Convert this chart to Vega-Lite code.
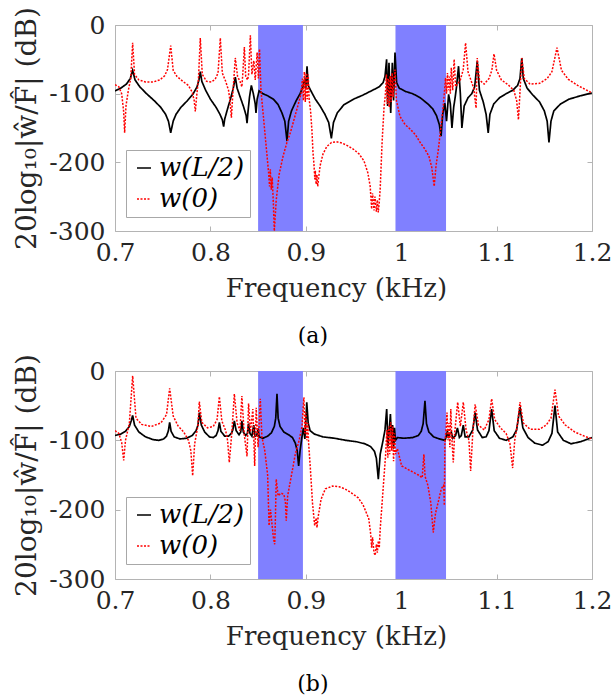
{
  "$schema": "https://vega.github.io/schema/vega-lite/v6.json",
  "background": "white",
  "padding": {"left": 13, "top": 6, "right": 0, "bottom": 0},
  "datasets": {
    "bands": [{"start": 0.85, "end": 0.897}, {"start": 0.994, "end": 1.047}],
    "a": [
      {"series":"w(L/2)","f":0.700,"dB":-96},{"series":"w(L/2)","f":0.706,"dB":-92},{"series":"w(L/2)","f":0.712,"dB":-86},{"series":"w(L/2)","f":0.716,"dB":-78},{"series":"w(L/2)","f":0.7185,"dB":-66},{"series":"w(L/2)","f":0.721,"dB":-80},{"series":"w(L/2)","f":0.726,"dB":-90},{"series":"w(L/2)","f":0.733,"dB":-100},{"series":"w(L/2)","f":0.741,"dB":-110},{"series":"w(L/2)","f":0.748,"dB":-120},{"series":"w(L/2)","f":0.753,"dB":-130},{"series":"w(L/2)","f":0.756,"dB":-140},{"series":"w(L/2)","f":0.7584,"dB":-157},{"series":"w(L/2)","f":0.761,"dB":-140},{"series":"w(L/2)","f":0.764,"dB":-130},{"series":"w(L/2)","f":0.769,"dB":-120},{"series":"w(L/2)","f":0.776,"dB":-110},{"series":"w(L/2)","f":0.782,"dB":-100},{"series":"w(L/2)","f":0.786,"dB":-90},{"series":"w(L/2)","f":0.788,"dB":-80},{"series":"w(L/2)","f":0.7894,"dB":-68},{"series":"w(L/2)","f":0.791,"dB":-82},{"series":"w(L/2)","f":0.795,"dB":-95},{"series":"w(L/2)","f":0.800,"dB":-108},{"series":"w(L/2)","f":0.806,"dB":-120},{"series":"w(L/2)","f":0.810,"dB":-130},{"series":"w(L/2)","f":0.8125,"dB":-138},{"series":"w(L/2)","f":0.8139,"dB":-148},{"series":"w(L/2)","f":0.815,"dB":-137},{"series":"w(L/2)","f":0.818,"dB":-122},{"series":"w(L/2)","f":0.821,"dB":-108},{"series":"w(L/2)","f":0.824,"dB":-92},{"series":"w(L/2)","f":0.8261,"dB":-76},{"series":"w(L/2)","f":0.828,"dB":-92},{"series":"w(L/2)","f":0.832,"dB":-108},{"series":"w(L/2)","f":0.835,"dB":-120},{"series":"w(L/2)","f":0.8375,"dB":-132},{"series":"w(L/2)","f":0.8384,"dB":-143},{"series":"w(L/2)","f":0.8395,"dB":-125},{"series":"w(L/2)","f":0.841,"dB":-105},{"series":"w(L/2)","f":0.8429,"dB":-88},{"series":"w(L/2)","f":0.845,"dB":-100},{"series":"w(L/2)","f":0.847,"dB":-115},{"series":"w(L/2)","f":0.8478,"dB":-128},{"series":"w(L/2)","f":0.849,"dB":-108},{"series":"w(L/2)","f":0.851,"dB":-96},{"series":"w(L/2)","f":0.855,"dB":-100},{"series":"w(L/2)","f":0.860,"dB":-103},{"series":"w(L/2)","f":0.866,"dB":-108},{"series":"w(L/2)","f":0.871,"dB":-116},{"series":"w(L/2)","f":0.875,"dB":-128},{"series":"w(L/2)","f":0.878,"dB":-140},{"series":"w(L/2)","f":0.8803,"dB":-169},{"series":"w(L/2)","f":0.882,"dB":-140},{"series":"w(L/2)","f":0.885,"dB":-125},{"series":"w(L/2)","f":0.890,"dB":-110},{"series":"w(L/2)","f":0.894,"dB":-100},{"series":"w(L/2)","f":0.897,"dB":-90},{"series":"w(L/2)","f":0.899,"dB":-78},{"series":"w(L/2)","f":0.900,"dB":-92},{"series":"w(L/2)","f":0.9013,"dB":-60},{"series":"w(L/2)","f":0.9025,"dB":-88},{"series":"w(L/2)","f":0.905,"dB":-95},{"series":"w(L/2)","f":0.910,"dB":-108},{"series":"w(L/2)","f":0.915,"dB":-118},{"series":"w(L/2)","f":0.920,"dB":-130},{"series":"w(L/2)","f":0.924,"dB":-142},{"series":"w(L/2)","f":0.9268,"dB":-165},{"series":"w(L/2)","f":0.929,"dB":-142},{"series":"w(L/2)","f":0.933,"dB":-128},{"series":"w(L/2)","f":0.940,"dB":-116},{"series":"w(L/2)","f":0.950,"dB":-108},{"series":"w(L/2)","f":0.960,"dB":-102},{"series":"w(L/2)","f":0.970,"dB":-95},{"series":"w(L/2)","f":0.977,"dB":-90},{"series":"w(L/2)","f":0.981,"dB":-84},{"series":"w(L/2)","f":0.983,"dB":-75},{"series":"w(L/2)","f":0.9847,"dB":-50},{"series":"w(L/2)","f":0.9858,"dB":-118},{"series":"w(L/2)","f":0.9872,"dB":-55},{"series":"w(L/2)","f":0.989,"dB":-128},{"series":"w(L/2)","f":0.9907,"dB":-55},{"series":"w(L/2)","f":0.992,"dB":-110},{"series":"w(L/2)","f":0.9935,"dB":-40},{"series":"w(L/2)","f":0.9952,"dB":-84},{"series":"w(L/2)","f":0.998,"dB":-92},{"series":"w(L/2)","f":1.005,"dB":-97},{"series":"w(L/2)","f":1.012,"dB":-100},{"series":"w(L/2)","f":1.020,"dB":-106},{"series":"w(L/2)","f":1.028,"dB":-115},{"series":"w(L/2)","f":1.033,"dB":-122},{"series":"w(L/2)","f":1.037,"dB":-132},{"series":"w(L/2)","f":1.040,"dB":-145},{"series":"w(L/2)","f":1.0418,"dB":-162},{"series":"w(L/2)","f":1.0435,"dB":-130},{"series":"w(L/2)","f":1.0458,"dB":-114},{"series":"w(L/2)","f":1.0475,"dB":-140},{"series":"w(L/2)","f":1.0497,"dB":-101},{"series":"w(L/2)","f":1.0515,"dB":-115},{"series":"w(L/2)","f":1.0532,"dB":-150},{"series":"w(L/2)","f":1.055,"dB":-120},{"series":"w(L/2)","f":1.0567,"dB":-104},{"series":"w(L/2)","f":1.058,"dB":-90},{"series":"w(L/2)","f":1.0601,"dB":-60},{"series":"w(L/2)","f":1.062,"dB":-100},{"series":"w(L/2)","f":1.0636,"dB":-150},{"series":"w(L/2)","f":1.066,"dB":-118},{"series":"w(L/2)","f":1.070,"dB":-106},{"series":"w(L/2)","f":1.074,"dB":-100},{"series":"w(L/2)","f":1.077,"dB":-90},{"series":"w(L/2)","f":1.0797,"dB":-53},{"series":"w(L/2)","f":1.082,"dB":-95},{"series":"w(L/2)","f":1.086,"dB":-112},{"series":"w(L/2)","f":1.089,"dB":-130},{"series":"w(L/2)","f":1.0912,"dB":-157},{"series":"w(L/2)","f":1.093,"dB":-130},{"series":"w(L/2)","f":1.097,"dB":-115},{"series":"w(L/2)","f":1.103,"dB":-106},{"series":"w(L/2)","f":1.110,"dB":-100},{"series":"w(L/2)","f":1.117,"dB":-95},{"series":"w(L/2)","f":1.122,"dB":-88},{"series":"w(L/2)","f":1.1245,"dB":-78},{"series":"w(L/2)","f":1.1264,"dB":-48},{"series":"w(L/2)","f":1.128,"dB":-78},{"series":"w(L/2)","f":1.132,"dB":-92},{"series":"w(L/2)","f":1.138,"dB":-102},{"series":"w(L/2)","f":1.145,"dB":-112},{"series":"w(L/2)","f":1.150,"dB":-125},{"series":"w(L/2)","f":1.153,"dB":-140},{"series":"w(L/2)","f":1.1549,"dB":-171},{"series":"w(L/2)","f":1.157,"dB":-140},{"series":"w(L/2)","f":1.160,"dB":-125},{"series":"w(L/2)","f":1.167,"dB":-115},{"series":"w(L/2)","f":1.176,"dB":-108},{"series":"w(L/2)","f":1.188,"dB":-103},{"series":"w(L/2)","f":1.200,"dB":-99},
      {"series":"w(0)","f":0.700,"dB":-87},{"series":"w(0)","f":0.704,"dB":-90},{"series":"w(0)","f":0.707,"dB":-100},{"series":"w(0)","f":0.709,"dB":-125},{"series":"w(0)","f":0.7101,"dB":-157},{"series":"w(0)","f":0.7115,"dB":-118},{"series":"w(0)","f":0.714,"dB":-95},{"series":"w(0)","f":0.7165,"dB":-78},{"series":"w(0)","f":0.7185,"dB":-26},{"series":"w(0)","f":0.7205,"dB":-72},{"series":"w(0)","f":0.725,"dB":-80},{"series":"w(0)","f":0.732,"dB":-83},{"series":"w(0)","f":0.740,"dB":-83},{"series":"w(0)","f":0.747,"dB":-80},{"series":"w(0)","f":0.752,"dB":-74},{"series":"w(0)","f":0.755,"dB":-65},{"series":"w(0)","f":0.7584,"dB":-30},{"series":"w(0)","f":0.761,"dB":-66},{"series":"w(0)","f":0.765,"dB":-75},{"series":"w(0)","f":0.771,"dB":-82},{"series":"w(0)","f":0.777,"dB":-88},{"series":"w(0)","f":0.781,"dB":-98},{"series":"w(0)","f":0.783,"dB":-110},{"series":"w(0)","f":0.7842,"dB":-126},{"series":"w(0)","f":0.7855,"dB":-105},{"series":"w(0)","f":0.7875,"dB":-78},{"series":"w(0)","f":0.7894,"dB":-19},{"series":"w(0)","f":0.7915,"dB":-72},{"series":"w(0)","f":0.796,"dB":-82},{"series":"w(0)","f":0.801,"dB":-83},{"series":"w(0)","f":0.805,"dB":-79},{"series":"w(0)","f":0.808,"dB":-70},{"series":"w(0)","f":0.8104,"dB":-19},{"series":"w(0)","f":0.8125,"dB":-70},{"series":"w(0)","f":0.816,"dB":-82},{"series":"w(0)","f":0.819,"dB":-95},{"series":"w(0)","f":0.8205,"dB":-110},{"series":"w(0)","f":0.822,"dB":-135},{"series":"w(0)","f":0.8235,"dB":-100},{"series":"w(0)","f":0.8261,"dB":-48},{"series":"w(0)","f":0.8285,"dB":-75},{"series":"w(0)","f":0.831,"dB":-82},{"series":"w(0)","f":0.833,"dB":-90},{"series":"w(0)","f":0.834,"dB":-70},{"series":"w(0)","f":0.8356,"dB":-32},{"series":"w(0)","f":0.837,"dB":-75},{"series":"w(0)","f":0.839,"dB":-80},{"series":"w(0)","f":0.840,"dB":-72},{"series":"w(0)","f":0.8419,"dB":-15},{"series":"w(0)","f":0.8435,"dB":-72},{"series":"w(0)","f":0.8455,"dB":-52},{"series":"w(0)","f":0.847,"dB":-80},{"series":"w(0)","f":0.849,"dB":-40},{"series":"w(0)","f":0.8503,"dB":-78},{"series":"w(0)","f":0.8515,"dB":-35},{"series":"w(0)","f":0.853,"dB":-95},{"series":"w(0)","f":0.856,"dB":-140},{"series":"w(0)","f":0.859,"dB":-185},{"series":"w(0)","f":0.861,"dB":-215},{"series":"w(0)","f":0.862,"dB":-235},{"series":"w(0)","f":0.8628,"dB":-210},{"series":"w(0)","f":0.8638,"dB":-240},{"series":"w(0)","f":0.8648,"dB":-222},{"series":"w(0)","f":0.866,"dB":-260},{"series":"w(0)","f":0.867,"dB":-300},{"series":"w(0)","f":0.869,"dB":-255},{"series":"w(0)","f":0.872,"dB":-218},{"series":"w(0)","f":0.876,"dB":-192},{"series":"w(0)","f":0.880,"dB":-172},{"series":"w(0)","f":0.884,"dB":-156},{"series":"w(0)","f":0.888,"dB":-136},{"series":"w(0)","f":0.892,"dB":-116},{"series":"w(0)","f":0.895,"dB":-100},{"series":"w(0)","f":0.8965,"dB":-78},{"series":"w(0)","f":0.8975,"dB":-110},{"series":"w(0)","f":0.8985,"dB":-68},{"series":"w(0)","f":0.8995,"dB":-112},{"series":"w(0)","f":0.9005,"dB":-70},{"series":"w(0)","f":0.9015,"dB":-108},{"series":"w(0)","f":0.9025,"dB":-72},{"series":"w(0)","f":0.9035,"dB":-108},{"series":"w(0)","f":0.905,"dB":-125},{"series":"w(0)","f":0.9065,"dB":-155},{"series":"w(0)","f":0.9075,"dB":-185},{"series":"w(0)","f":0.9085,"dB":-202},{"series":"w(0)","f":0.9095,"dB":-225},{"series":"w(0)","f":0.910,"dB":-212},{"series":"w(0)","f":0.9108,"dB":-232},{"series":"w(0)","f":0.9116,"dB":-218},{"series":"w(0)","f":0.9125,"dB":-235},{"series":"w(0)","f":0.9135,"dB":-222},{"series":"w(0)","f":0.915,"dB":-205},{"series":"w(0)","f":0.918,"dB":-188},{"series":"w(0)","f":0.922,"dB":-177},{"series":"w(0)","f":0.927,"dB":-171},{"series":"w(0)","f":0.932,"dB":-170},{"series":"w(0)","f":0.938,"dB":-172},{"series":"w(0)","f":0.944,"dB":-176},{"series":"w(0)","f":0.950,"dB":-181},{"series":"w(0)","f":0.956,"dB":-188},{"series":"w(0)","f":0.961,"dB":-198},{"series":"w(0)","f":0.965,"dB":-215},{"series":"w(0)","f":0.9675,"dB":-235},{"series":"w(0)","f":0.969,"dB":-268},{"series":"w(0)","f":0.970,"dB":-245},{"series":"w(0)","f":0.9715,"dB":-270},{"series":"w(0)","f":0.9725,"dB":-250},{"series":"w(0)","f":0.974,"dB":-272},{"series":"w(0)","f":0.975,"dB":-255},{"series":"w(0)","f":0.976,"dB":-273},{"series":"w(0)","f":0.977,"dB":-258},{"series":"w(0)","f":0.978,"dB":-238},{"series":"w(0)","f":0.980,"dB":-170},{"series":"w(0)","f":0.982,"dB":-120},{"series":"w(0)","f":0.9835,"dB":-100},{"series":"w(0)","f":0.9845,"dB":-72},{"series":"w(0)","f":0.9855,"dB":-115},{"series":"w(0)","f":0.9865,"dB":-78},{"series":"w(0)","f":0.9875,"dB":-120},{"series":"w(0)","f":0.9885,"dB":-74},{"series":"w(0)","f":0.9895,"dB":-112},{"series":"w(0)","f":0.9905,"dB":-70},{"series":"w(0)","f":0.9915,"dB":-105},{"series":"w(0)","f":0.9925,"dB":-80},{"series":"w(0)","f":0.9935,"dB":-65},{"series":"w(0)","f":0.995,"dB":-110},{"series":"w(0)","f":0.9987,"dB":-133},{"series":"w(0)","f":1.004,"dB":-145},{"series":"w(0)","f":1.0098,"dB":-152},{"series":"w(0)","f":1.015,"dB":-160},{"series":"w(0)","f":1.0203,"dB":-172},{"series":"w(0)","f":1.025,"dB":-181},{"series":"w(0)","f":1.029,"dB":-191},{"series":"w(0)","f":1.032,"dB":-207},{"series":"w(0)","f":1.0346,"dB":-235},{"series":"w(0)","f":1.0365,"dB":-205},{"series":"w(0)","f":1.0389,"dB":-182},{"series":"w(0)","f":1.0415,"dB":-150},{"series":"w(0)","f":1.0441,"dB":-118},{"series":"w(0)","f":1.0465,"dB":-77},{"series":"w(0)","f":1.0475,"dB":-100},{"series":"w(0)","f":1.0485,"dB":-70},{"series":"w(0)","f":1.0495,"dB":-95},{"series":"w(0)","f":1.0505,"dB":-75},{"series":"w(0)","f":1.0515,"dB":-100},{"series":"w(0)","f":1.0525,"dB":-62},{"series":"w(0)","f":1.054,"dB":-95},{"series":"w(0)","f":1.0555,"dB":-50},{"series":"w(0)","f":1.057,"dB":-90},{"series":"w(0)","f":1.059,"dB":-86},{"series":"w(0)","f":1.062,"dB":-80},{"series":"w(0)","f":1.065,"dB":-65},{"series":"w(0)","f":1.0675,"dB":-26},{"series":"w(0)","f":1.070,"dB":-68},{"series":"w(0)","f":1.073,"dB":-80},{"series":"w(0)","f":1.076,"dB":-92},{"series":"w(0)","f":1.0785,"dB":-121},{"series":"w(0)","f":1.0797,"dB":-48},{"series":"w(0)","f":1.082,"dB":-80},{"series":"w(0)","f":1.087,"dB":-86},{"series":"w(0)","f":1.092,"dB":-78},{"series":"w(0)","f":1.095,"dB":-66},{"series":"w(0)","f":1.0973,"dB":-42},{"series":"w(0)","f":1.100,"dB":-66},{"series":"w(0)","f":1.105,"dB":-80},{"series":"w(0)","f":1.112,"dB":-87},{"series":"w(0)","f":1.118,"dB":-95},{"series":"w(0)","f":1.121,"dB":-110},{"series":"w(0)","f":1.1229,"dB":-138},{"series":"w(0)","f":1.1245,"dB":-98},{"series":"w(0)","f":1.1264,"dB":-48},{"series":"w(0)","f":1.129,"dB":-78},{"series":"w(0)","f":1.135,"dB":-86},{"series":"w(0)","f":1.145,"dB":-85},{"series":"w(0)","f":1.153,"dB":-78},{"series":"w(0)","f":1.158,"dB":-68},{"series":"w(0)","f":1.1633,"dB":-33},{"series":"w(0)","f":1.168,"dB":-66},{"series":"w(0)","f":1.175,"dB":-79},{"series":"w(0)","f":1.185,"dB":-88},{"series":"w(0)","f":1.200,"dB":-99}
    ],
    "b": [
      {"series":"w(L/2)","f":0.700,"dB":-93},{"series":"w(L/2)","f":0.706,"dB":-91},{"series":"w(L/2)","f":0.711,"dB":-87},{"series":"w(L/2)","f":0.715,"dB":-80},{"series":"w(L/2)","f":0.717,"dB":-72},{"series":"w(L/2)","f":0.7185,"dB":-64},{"series":"w(L/2)","f":0.7205,"dB":-78},{"series":"w(L/2)","f":0.725,"dB":-88},{"series":"w(L/2)","f":0.732,"dB":-95},{"series":"w(L/2)","f":0.740,"dB":-99},{"series":"w(L/2)","f":0.746,"dB":-100},{"series":"w(L/2)","f":0.751,"dB":-98},{"series":"w(L/2)","f":0.754,"dB":-94},{"series":"w(L/2)","f":0.756,"dB":-86},{"series":"w(L/2)","f":0.7573,"dB":-74},{"series":"w(L/2)","f":0.7588,"dB":-87},{"series":"w(L/2)","f":0.762,"dB":-95},{"series":"w(L/2)","f":0.768,"dB":-98},{"series":"w(L/2)","f":0.775,"dB":-97},{"series":"w(L/2)","f":0.781,"dB":-93},{"series":"w(L/2)","f":0.785,"dB":-86},{"series":"w(L/2)","f":0.787,"dB":-78},{"series":"w(L/2)","f":0.7884,"dB":-60},{"series":"w(L/2)","f":0.7905,"dB":-78},{"series":"w(L/2)","f":0.794,"dB":-88},{"series":"w(L/2)","f":0.799,"dB":-95},{"series":"w(L/2)","f":0.803,"dB":-96},{"series":"w(L/2)","f":0.806,"dB":-93},{"series":"w(L/2)","f":0.808,"dB":-86},{"series":"w(L/2)","f":0.8094,"dB":-74},{"series":"w(L/2)","f":0.811,"dB":-87},{"series":"w(L/2)","f":0.815,"dB":-94},{"series":"w(L/2)","f":0.819,"dB":-94},{"series":"w(L/2)","f":0.822,"dB":-90},{"series":"w(L/2)","f":0.8235,"dB":-85},{"series":"w(L/2)","f":0.8251,"dB":-72},{"series":"w(L/2)","f":0.827,"dB":-86},{"series":"w(L/2)","f":0.830,"dB":-92},{"series":"w(L/2)","f":0.8318,"dB":-88},{"series":"w(L/2)","f":0.833,"dB":-72},{"series":"w(L/2)","f":0.8345,"dB":-88},{"series":"w(L/2)","f":0.837,"dB":-93},{"series":"w(L/2)","f":0.8388,"dB":-90},{"series":"w(L/2)","f":0.840,"dB":-76},{"series":"w(L/2)","f":0.8415,"dB":-90},{"series":"w(L/2)","f":0.8435,"dB":-94},{"series":"w(L/2)","f":0.8454,"dB":-78},{"series":"w(L/2)","f":0.8468,"dB":-94},{"series":"w(L/2)","f":0.8485,"dB":-93},{"series":"w(L/2)","f":0.850,"dB":-83},{"series":"w(L/2)","f":0.851,"dB":-95},{"series":"w(L/2)","f":0.855,"dB":-97},{"series":"w(L/2)","f":0.860,"dB":-94},{"series":"w(L/2)","f":0.864,"dB":-89},{"series":"w(L/2)","f":0.867,"dB":-80},{"series":"w(L/2)","f":0.8685,"dB":-68},{"series":"w(L/2)","f":0.8698,"dB":-33},{"series":"w(L/2)","f":0.871,"dB":-68},{"series":"w(L/2)","f":0.873,"dB":-80},{"series":"w(L/2)","f":0.877,"dB":-88},{"series":"w(L/2)","f":0.882,"dB":-92},{"series":"w(L/2)","f":0.886,"dB":-96},{"series":"w(L/2)","f":0.889,"dB":-104},{"series":"w(L/2)","f":0.891,"dB":-115},{"series":"w(L/2)","f":0.8925,"dB":-137},{"series":"w(L/2)","f":0.894,"dB":-115},{"series":"w(L/2)","f":0.896,"dB":-95},{"series":"w(L/2)","f":0.8975,"dB":-82},{"series":"w(L/2)","f":0.899,"dB":-98},{"series":"w(L/2)","f":0.900,"dB":-75},{"series":"w(L/2)","f":0.901,"dB":-45},{"series":"w(L/2)","f":0.9025,"dB":-75},{"series":"w(L/2)","f":0.9045,"dB":-86},{"series":"w(L/2)","f":0.909,"dB":-91},{"series":"w(L/2)","f":0.918,"dB":-95},{"series":"w(L/2)","f":0.930,"dB":-97},{"series":"w(L/2)","f":0.942,"dB":-100},{"series":"w(L/2)","f":0.953,"dB":-102},{"series":"w(L/2)","f":0.962,"dB":-105},{"series":"w(L/2)","f":0.968,"dB":-109},{"series":"w(L/2)","f":0.972,"dB":-116},{"series":"w(L/2)","f":0.974,"dB":-126},{"series":"w(L/2)","f":0.976,"dB":-156},{"series":"w(L/2)","f":0.978,"dB":-120},{"series":"w(L/2)","f":0.981,"dB":-100},{"series":"w(L/2)","f":0.983,"dB":-85},{"series":"w(L/2)","f":0.9848,"dB":-55},{"series":"w(L/2)","f":0.9862,"dB":-108},{"series":"w(L/2)","f":0.9875,"dB":-85},{"series":"w(L/2)","f":0.9887,"dB":-62},{"series":"w(L/2)","f":0.990,"dB":-105},{"series":"w(L/2)","f":0.991,"dB":-78},{"series":"w(L/2)","f":0.992,"dB":-112},{"series":"w(L/2)","f":0.993,"dB":-82},{"series":"w(L/2)","f":0.994,"dB":-100},{"series":"w(L/2)","f":0.996,"dB":-96},{"series":"w(L/2)","f":1.003,"dB":-97},{"series":"w(L/2)","f":1.012,"dB":-96},{"series":"w(L/2)","f":1.018,"dB":-93},{"series":"w(L/2)","f":1.021,"dB":-87},{"series":"w(L/2)","f":1.023,"dB":-76},{"series":"w(L/2)","f":1.0249,"dB":-43},{"series":"w(L/2)","f":1.0265,"dB":-76},{"series":"w(L/2)","f":1.029,"dB":-88},{"series":"w(L/2)","f":1.034,"dB":-95},{"series":"w(L/2)","f":1.040,"dB":-98},{"series":"w(L/2)","f":1.046,"dB":-100},{"series":"w(L/2)","f":1.0475,"dB":-93},{"series":"w(L/2)","f":1.0485,"dB":-86},{"series":"w(L/2)","f":1.0495,"dB":-97},{"series":"w(L/2)","f":1.051,"dB":-90},{"series":"w(L/2)","f":1.0525,"dB":-88},{"series":"w(L/2)","f":1.054,"dB":-97},{"series":"w(L/2)","f":1.057,"dB":-93},{"series":"w(L/2)","f":1.0589,"dB":-82},{"series":"w(L/2)","f":1.061,"dB":-96},{"series":"w(L/2)","f":1.063,"dB":-93},{"series":"w(L/2)","f":1.0651,"dB":-78},{"series":"w(L/2)","f":1.067,"dB":-95},{"series":"w(L/2)","f":1.071,"dB":-95},{"series":"w(L/2)","f":1.075,"dB":-85},{"series":"w(L/2)","f":1.0775,"dB":-60},{"series":"w(L/2)","f":1.080,"dB":-85},{"series":"w(L/2)","f":1.085,"dB":-96},{"series":"w(L/2)","f":1.089,"dB":-95},{"series":"w(L/2)","f":1.092,"dB":-86},{"series":"w(L/2)","f":1.0948,"dB":-55},{"series":"w(L/2)","f":1.0975,"dB":-86},{"series":"w(L/2)","f":1.103,"dB":-97},{"series":"w(L/2)","f":1.110,"dB":-100},{"series":"w(L/2)","f":1.117,"dB":-95},{"series":"w(L/2)","f":1.121,"dB":-85},{"series":"w(L/2)","f":1.1245,"dB":-52},{"series":"w(L/2)","f":1.1275,"dB":-82},{"series":"w(L/2)","f":1.133,"dB":-96},{"series":"w(L/2)","f":1.140,"dB":-104},{"series":"w(L/2)","f":1.148,"dB":-107},{"series":"w(L/2)","f":1.154,"dB":-102},{"series":"w(L/2)","f":1.158,"dB":-90},{"series":"w(L/2)","f":1.1612,"dB":-50},{"series":"w(L/2)","f":1.164,"dB":-88},{"series":"w(L/2)","f":1.170,"dB":-100},{"series":"w(L/2)","f":1.178,"dB":-105},{"series":"w(L/2)","f":1.188,"dB":-102},{"series":"w(L/2)","f":1.200,"dB":-96},
      {"series":"w(0)","f":0.700,"dB":-86},{"series":"w(0)","f":0.704,"dB":-90},{"series":"w(0)","f":0.707,"dB":-103},{"series":"w(0)","f":0.7091,"dB":-129},{"series":"w(0)","f":0.711,"dB":-100},{"series":"w(0)","f":0.715,"dB":-76},{"series":"w(0)","f":0.7185,"dB":-7},{"series":"w(0)","f":0.722,"dB":-68},{"series":"w(0)","f":0.728,"dB":-77},{"series":"w(0)","f":0.738,"dB":-80},{"series":"w(0)","f":0.748,"dB":-75},{"series":"w(0)","f":0.754,"dB":-63},{"series":"w(0)","f":0.7573,"dB":-25},{"series":"w(0)","f":0.761,"dB":-65},{"series":"w(0)","f":0.766,"dB":-79},{"series":"w(0)","f":0.772,"dB":-88},{"series":"w(0)","f":0.777,"dB":-100},{"series":"w(0)","f":0.7795,"dB":-115},{"series":"w(0)","f":0.7814,"dB":-151},{"series":"w(0)","f":0.7835,"dB":-105},{"series":"w(0)","f":0.787,"dB":-78},{"series":"w(0)","f":0.7884,"dB":-44},{"series":"w(0)","f":0.791,"dB":-74},{"series":"w(0)","f":0.797,"dB":-82},{"series":"w(0)","f":0.803,"dB":-80},{"series":"w(0)","f":0.807,"dB":-70},{"series":"w(0)","f":0.8094,"dB":-37},{"series":"w(0)","f":0.812,"dB":-72},{"series":"w(0)","f":0.816,"dB":-86},{"series":"w(0)","f":0.818,"dB":-100},{"series":"w(0)","f":0.8198,"dB":-132},{"series":"w(0)","f":0.8225,"dB":-88},{"series":"w(0)","f":0.8251,"dB":-33},{"series":"w(0)","f":0.828,"dB":-75},{"series":"w(0)","f":0.831,"dB":-86},{"series":"w(0)","f":0.833,"dB":-36},{"series":"w(0)","f":0.8355,"dB":-92},{"series":"w(0)","f":0.8384,"dB":-123},{"series":"w(0)","f":0.840,"dB":-47},{"series":"w(0)","f":0.842,"dB":-88},{"series":"w(0)","f":0.8445,"dB":-55},{"series":"w(0)","f":0.8464,"dB":-137},{"series":"w(0)","f":0.848,"dB":-53},{"series":"w(0)","f":0.850,"dB":-110},{"series":"w(0)","f":0.8523,"dB":-40},{"series":"w(0)","f":0.854,"dB":-95},{"series":"w(0)","f":0.857,"dB":-115},{"series":"w(0)","f":0.860,"dB":-150},{"series":"w(0)","f":0.8615,"dB":-223},{"series":"w(0)","f":0.863,"dB":-200},{"series":"w(0)","f":0.8645,"dB":-220},{"series":"w(0)","f":0.866,"dB":-240},{"series":"w(0)","f":0.8674,"dB":-250},{"series":"w(0)","f":0.868,"dB":-220},{"series":"w(0)","f":0.869,"dB":-156},{"series":"w(0)","f":0.871,"dB":-180},{"series":"w(0)","f":0.874,"dB":-176},{"series":"w(0)","f":0.877,"dB":-178},{"series":"w(0)","f":0.8786,"dB":-188},{"series":"w(0)","f":0.8795,"dB":-216},{"series":"w(0)","f":0.881,"dB":-180},{"series":"w(0)","f":0.885,"dB":-150},{"series":"w(0)","f":0.889,"dB":-120},{"series":"w(0)","f":0.893,"dB":-100},{"series":"w(0)","f":0.896,"dB":-80},{"series":"w(0)","f":0.898,"dB":-38},{"series":"w(0)","f":0.899,"dB":-90},{"series":"w(0)","f":0.900,"dB":-60},{"series":"w(0)","f":0.901,"dB":-100},{"series":"w(0)","f":0.902,"dB":-75},{"series":"w(0)","f":0.903,"dB":-105},{"series":"w(0)","f":0.9048,"dB":-141},{"series":"w(0)","f":0.907,"dB":-190},{"series":"w(0)","f":0.9093,"dB":-223},{"series":"w(0)","f":0.911,"dB":-212},{"series":"w(0)","f":0.9117,"dB":-226},{"series":"w(0)","f":0.913,"dB":-210},{"series":"w(0)","f":0.916,"dB":-185},{"series":"w(0)","f":0.9205,"dB":-170},{"series":"w(0)","f":0.928,"dB":-166},{"series":"w(0)","f":0.935,"dB":-167},{"series":"w(0)","f":0.9411,"dB":-170},{"series":"w(0)","f":0.948,"dB":-176},{"series":"w(0)","f":0.955,"dB":-183},{"series":"w(0)","f":0.960,"dB":-193},{"series":"w(0)","f":0.966,"dB":-213},{"series":"w(0)","f":0.968,"dB":-235},{"series":"w(0)","f":0.969,"dB":-255},{"series":"w(0)","f":0.970,"dB":-240},{"series":"w(0)","f":0.9715,"dB":-262},{"series":"w(0)","f":0.9727,"dB":-266},{"series":"w(0)","f":0.974,"dB":-250},{"series":"w(0)","f":0.975,"dB":-262},{"series":"w(0)","f":0.976,"dB":-245},{"series":"w(0)","f":0.977,"dB":-255},{"series":"w(0)","f":0.978,"dB":-228},{"series":"w(0)","f":0.980,"dB":-190},{"series":"w(0)","f":0.9836,"dB":-122},{"series":"w(0)","f":0.985,"dB":-85},{"series":"w(0)","f":0.986,"dB":-125},{"series":"w(0)","f":0.987,"dB":-80},{"series":"w(0)","f":0.988,"dB":-120},{"series":"w(0)","f":0.989,"dB":-74},{"series":"w(0)","f":0.990,"dB":-115},{"series":"w(0)","f":0.991,"dB":-80},{"series":"w(0)","f":0.992,"dB":-130},{"series":"w(0)","f":0.993,"dB":-90},{"series":"w(0)","f":0.994,"dB":-120},{"series":"w(0)","f":0.996,"dB":-112},{"series":"w(0)","f":1.0005,"dB":-137},{"series":"w(0)","f":1.0098,"dB":-144},{"series":"w(0)","f":1.018,"dB":-150},{"series":"w(0)","f":1.022,"dB":-154},{"series":"w(0)","f":1.0238,"dB":-120},{"series":"w(0)","f":1.025,"dB":-152},{"series":"w(0)","f":1.028,"dB":-165},{"series":"w(0)","f":1.031,"dB":-190},{"series":"w(0)","f":1.0336,"dB":-233},{"series":"w(0)","f":1.036,"dB":-205},{"series":"w(0)","f":1.0388,"dB":-189},{"series":"w(0)","f":1.042,"dB":-170},{"series":"w(0)","f":1.0445,"dB":-165},{"series":"w(0)","f":1.0452,"dB":-194},{"series":"w(0)","f":1.0458,"dB":-103},{"series":"w(0)","f":1.047,"dB":-85},{"series":"w(0)","f":1.048,"dB":-60},{"series":"w(0)","f":1.049,"dB":-100},{"series":"w(0)","f":1.050,"dB":-75},{"series":"w(0)","f":1.051,"dB":-110},{"series":"w(0)","f":1.052,"dB":-55},{"series":"w(0)","f":1.053,"dB":-95},{"series":"w(0)","f":1.0546,"dB":-132},{"series":"w(0)","f":1.056,"dB":-90},{"series":"w(0)","f":1.0592,"dB":-45},{"series":"w(0)","f":1.062,"dB":-80},{"series":"w(0)","f":1.0651,"dB":-45},{"series":"w(0)","f":1.068,"dB":-85},{"series":"w(0)","f":1.071,"dB":-100},{"series":"w(0)","f":1.0728,"dB":-144},{"series":"w(0)","f":1.075,"dB":-90},{"series":"w(0)","f":1.0775,"dB":-48},{"series":"w(0)","f":1.081,"dB":-78},{"series":"w(0)","f":1.087,"dB":-85},{"series":"w(0)","f":1.092,"dB":-70},{"series":"w(0)","f":1.0948,"dB":-40},{"series":"w(0)","f":1.098,"dB":-70},{"series":"w(0)","f":1.104,"dB":-82},{"series":"w(0)","f":1.110,"dB":-90},{"series":"w(0)","f":1.114,"dB":-105},{"series":"w(0)","f":1.1168,"dB":-140},{"series":"w(0)","f":1.119,"dB":-100},{"series":"w(0)","f":1.122,"dB":-75},{"series":"w(0)","f":1.1245,"dB":-45},{"series":"w(0)","f":1.128,"dB":-75},{"series":"w(0)","f":1.135,"dB":-84},{"series":"w(0)","f":1.145,"dB":-84},{"series":"w(0)","f":1.152,"dB":-78},{"series":"w(0)","f":1.157,"dB":-68},{"series":"w(0)","f":1.1612,"dB":-27},{"series":"w(0)","f":1.165,"dB":-65},{"series":"w(0)","f":1.172,"dB":-78},{"series":"w(0)","f":1.182,"dB":-88},{"series":"w(0)","f":1.192,"dB":-94},{"series":"w(0)","f":1.200,"dB":-98}
    ]
  },
  "spacing": 5,
  "vconcat": [
    {
      "width": 477, "height": 206,
      "title": {"text": "(a)", "orient": "bottom", "anchor": "middle", "frame": "bounds", "offset": 25},
      "layer": [
        {"data": {"name": "bands"}, "mark": {"type": "rect", "color": "#8080ff", "opacity": 1},
         "encoding": {
           "x": {"field": "start", "type": "quantitative", "scale": {"domain": [0.7, 1.2], "nice": false, "zero": false},
                 "axis": {"orient": "bottom", "values": [0.7, 0.8, 0.9, 1, 1.1, 1.2], "format": "~g", "title": "Frequency (kHz)", "titleX": 221}},
           "x2": {"field": "end"}}},
        {"data": {"name": "a"}, "transform": [{"filter": "datum.series == 'w(L/2)'"}],
         "mark": {"type": "line", "strokeWidth": 1.7, "clip": true},
         "encoding": {
           "x": {"field": "f", "type": "quantitative", "axis": {"orient": "top", "values": [0.7, 0.8, 0.9, 1, 1.1, 1.2], "labels": false, "title": null}},
           "y": {"field": "dB", "type": "quantitative", "scale": {"domain": [-300, 0], "nice": false},
                 "axis": {"orient": "left", "values": [-300, -200, -100, 0], "labelExpr": "datum.value == 0 ? '0' : '-' + abs(datum.value)", "title": "20log₁₀|ŵ/F̂| (dB)", "titleFontSize": 28}},
           "color": {"field": "series", "type": "nominal", "scale": {"domain": ["w(L/2)", "w(0)"], "range": ["#000000", "#ff0000"]},
                     "legend": {"orient": "none", "legendX": 11, "legendY": 125, "title": null}},
           "strokeDash": {"field": "series", "type": "nominal", "scale": {"domain": ["w(L/2)", "w(0)"], "range": [[1, 0], [2, 1.5]]},
                     "legend": {"orient": "none", "legendX": 11, "legendY": 125, "title": null}}}},
        {"data": {"name": "a"}, "transform": [{"filter": "datum.series == 'w(0)'"}],
         "mark": {"type": "line", "strokeWidth": 1.5, "clip": true},
         "encoding": {
           "x": {"field": "f", "type": "quantitative", "axis": null},
           "y": {"field": "dB", "type": "quantitative", "axis": {"orient": "right", "values": [-300, -200, -100, 0], "labels": false, "title": null}},
           "color": {"field": "series", "type": "nominal"},
           "strokeDash": {"field": "series", "type": "nominal"}}}
      ],
      "resolve": {"axis": {"x": "independent", "y": "independent"}}
    },
    {
      "width": 477, "height": 208,
      "title": {"text": "(b)", "orient": "bottom", "anchor": "middle", "frame": "bounds", "offset": 25},
      "layer": [
        {"data": {"name": "bands"}, "mark": {"type": "rect", "color": "#8080ff", "opacity": 1},
         "encoding": {
           "x": {"field": "start", "type": "quantitative", "scale": {"domain": [0.7, 1.2], "nice": false, "zero": false},
                 "axis": {"orient": "bottom", "values": [0.7, 0.8, 0.9, 1, 1.1, 1.2], "format": "~g", "title": "Frequency (kHz)", "titleX": 221}},
           "x2": {"field": "end"}}},
        {"data": {"name": "b"}, "transform": [{"filter": "datum.series == 'w(L/2)'"}],
         "mark": {"type": "line", "strokeWidth": 1.7, "clip": true},
         "encoding": {
           "x": {"field": "f", "type": "quantitative", "axis": {"orient": "top", "values": [0.7, 0.8, 0.9, 1, 1.1, 1.2], "labels": false, "title": null}},
           "y": {"field": "dB", "type": "quantitative", "scale": {"domain": [-300, 0], "nice": false},
                 "axis": {"orient": "left", "values": [-300, -200, -100, 0], "labelExpr": "datum.value == 0 ? '0' : '-' + abs(datum.value)", "title": "20log₁₀|ŵ/F̂| (dB)", "titleFontSize": 28}},
           "color": {"field": "series", "type": "nominal", "scale": {"domain": ["w(L/2)", "w(0)"], "range": ["#000000", "#ff0000"]},
                     "legend": {"orient": "none", "legendX": 11, "legendY": 126, "title": null}},
           "strokeDash": {"field": "series", "type": "nominal", "scale": {"domain": ["w(L/2)", "w(0)"], "range": [[1, 0], [2, 1.5]]},
                     "legend": {"orient": "none", "legendX": 11, "legendY": 126, "title": null}}}},
        {"data": {"name": "b"}, "transform": [{"filter": "datum.series == 'w(0)'"}],
         "mark": {"type": "line", "strokeWidth": 1.5, "clip": true},
         "encoding": {
           "x": {"field": "f", "type": "quantitative", "axis": null},
           "y": {"field": "dB", "type": "quantitative", "axis": {"orient": "right", "values": [-300, -200, -100, 0], "labels": false, "title": null}},
           "color": {"field": "series", "type": "nominal"},
           "strokeDash": {"field": "series", "type": "nominal"}}}
      ],
      "resolve": {"axis": {"x": "independent", "y": "independent"}}
    }
  ],
  "resolve": {"legend": {"color": "independent", "strokeDash": "independent"}},
  "config": {
    "view": {"stroke": "#b4b4b4", "strokeWidth": 1},
    "axis": {
      "domain": false, "grid": false,
      "tickColor": "#b4b4b4", "tickSize": -5, "tickWidth": 1,
      "labelFont": "DejaVu Serif", "labelFontSize": 25, "labelColor": "#262626",
      "labelFlush": false, "labelOverlap": false, "labelPadding": 15,
      "titleFont": "DejaVu Serif", "titleFontSize": 26, "titleFontWeight": "normal", "titleColor": "#262626",
      "titlePadding": 7
    },
    "axisBottom": {"labelPadding": 14, "titlePadding": 10},
    "legend": {
      "fillColor": "white", "strokeColor": "#a8a8a8", "padding": 5,
      "labelFont": "DejaVu Serif", "labelFontStyle": "italic", "labelFontSize": 26, "labelColor": "#000000",
      "symbolType": "stroke", "symbolSize": 196, "symbolStrokeWidth": 1.6, "rowPadding": 5, "labelOffset": 2
    },
    "title": {"font": "DejaVu Serif", "fontSize": 22, "fontWeight": "normal", "color": "#000000"}
  }
}
